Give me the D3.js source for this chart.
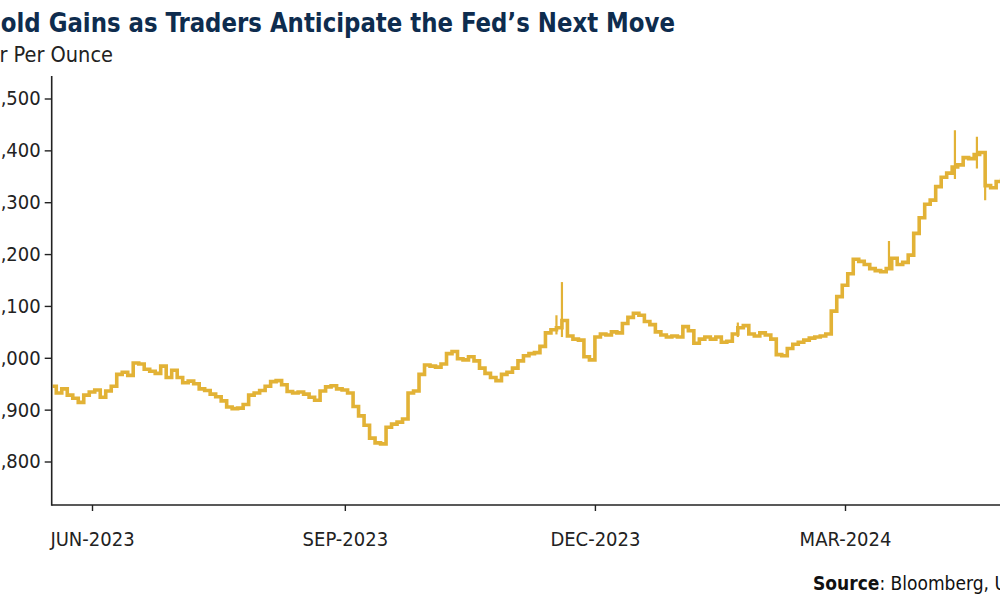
<!DOCTYPE html>
<html><head><meta charset="utf-8">
<script src="https://cdn.jsdelivr.net/npm/d3@7"></script>
<style>
body{margin:0;background:#fff}
svg{display:block}
text{font-family:"Liberation Sans Narrow","DejaVu Sans Condensed","Roboto",sans-serif}
</style>
</head><body>
<svg id="c" width="1000" height="600"></svg>
<script>
// ---- data ----
const titleText = "Gold Gains as Traders Anticipate the Fed\u2019s Next Move";
const unitText = "Dollar Per Ounce";
const sourceBold = "Source";
const sourceRest = ": Bloomberg, U.S. Global Investors";
const startDate = "2023-05-17";
const stepDays = 2;
const prices = [
 1945,1932,1940,1928,1922,1914,1928,1934,1938,1924,
 1936,1945,1968,1972,1966,1990,1988,1978,1974,1970,
 1984,1962,1976,1962,1952,1955,1950,1940,1937,1930,
 1925,1917,1905,1902,1903,1910,1928,1932,1937,1945,
 1954,1956,1948,1935,1932,1934,1930,1924,1918,1936,
 1944,1946,1940,1938,1932,1906,1888,1870,1845,1836,
 1834,1866,1872,1876,1882,1932,1936,1968,1986,1984,
 1982,1988,2008,2012,1998,1996,2002,1994,1980,1970,
 1962,1956,1968,1972,1980,1994,2004,2008,2010,2022,
 2048,2054,2058,2072,2042,2036,2034,2002,1996,2040,
 2046,2044,2050,2048,2066,2078,2086,2082,2070,2064,
 2050,2044,2040,2042,2040,2060,2052,2028,2036,2040,
 2036,2040,2030,2032,2046,2058,2062,2046,2042,2048,
 2044,2036,2006,2004,2018,2026,2030,2034,2038,2040,
 2042,2046,2090,2118,2140,2162,2190,2186,2180,2172,
 2168,2166,2172,2192,2180,2184,2198,2240,2270,2296,
 2304,2330,2348,2356,2368,2372,2386,2384,2392,2396,
 2332,2328,2340,2346
];
const spikeDates = ["2023-11-17","2023-11-19","2024-01-22","2024-03-17","2024-04-10","2024-04-18","2024-04-21"];
const spikeLows  = [2045,2040,2040,2175,2345,2365,2304];
const spikeHighs = [2082,2146,2068,2225,2439,2426,2340];
const yTicks = [1800,1900,2000,2100,2200,2300,2400,2500];
const xTickDates = ["2023-06-01","2023-09-01","2023-12-01","2024-03-01"];

// ---- chart ----
const parse = d3.timeParse("%Y-%m-%d");
const svg = d3.select("#c");
const axisX = 51.7, axisBottom = 505, axisTop = 76, right = 1000;

const x = d3.scaleTime()
  .domain([parse("2023-06-01"), parse("2024-03-01")])
  .range([92, 845]);
const y = d3.scaleLinear().domain([1800, 2500]).range([461.5, 98.5]);

const start = parse(startDate);
const series = prices.map((v, i) => ({date: d3.timeDay.offset(start, i * stepDays), v}));

svg.append("defs").append("clipPath").attr("id", "plot")
  .append("rect").attr("x", axisX + 1).attr("y", axisTop).attr("width", right - axisX).attr("height", axisBottom - axisTop);

const gold = "#E2B236";
const plot = svg.append("g").attr("clip-path", "url(#plot)");
plot.append("path").datum(series)
  .attr("fill", "none").attr("stroke", gold).attr("stroke-width", 3.6)
  .attr("stroke-linejoin", "miter")
  .attr("d", d3.line().x(d => x(d.date)).y(d => y(d.v)).curve(d3.curveStepAfter));
plot.selectAll("line.spike").data(spikeDates.map((d, i) => ({d: parse(d), lo: spikeLows[i], hi: spikeHighs[i]})))
  .join("line").attr("class", "spike")
  .attr("x1", d => x(d.d)).attr("x2", d => x(d.d))
  .attr("y1", d => y(d.lo)).attr("y2", d => y(d.hi))
  .attr("stroke", gold).attr("stroke-width", 2.2);

// axes
const ink = "#222";
svg.append("line").attr("x1", axisX).attr("x2", axisX).attr("y1", axisTop).attr("y2", axisBottom + 0.75)
  .attr("stroke", ink).attr("stroke-width", 1.6);
svg.append("line").attr("x1", axisX).attr("x2", right).attr("y1", axisBottom).attr("y2", axisBottom)
  .attr("stroke", ink).attr("stroke-width", 1.6);

const yAxis = d3.axisLeft(y).tickValues(yTicks).tickSize(7).tickPadding(4)
  .tickFormat(d => "$" + d3.format(",")(d));
const gy = svg.append("g").attr("transform", `translate(${axisX},0)`).call(yAxis);
gy.select(".domain").remove();
gy.selectAll(".tick line").attr("stroke", ink).attr("stroke-width", 1.4);
gy.selectAll(".tick text").attr("fill", ink).style("font-size", "20px");

const xAxis = d3.axisBottom(x).tickValues(xTickDates.map(parse)).tickSize(6).tickPadding(21)
  .tickFormat(d => d3.timeFormat("%b-%Y")(d).toUpperCase());
const gx = svg.append("g").attr("transform", `translate(0,${axisBottom})`).call(xAxis);
gx.select(".domain").remove();
gx.selectAll(".tick line").attr("stroke", ink).attr("stroke-width", 1.4);
gx.selectAll(".tick text").attr("fill", ink).style("font-size", "20px");

// titles
svg.append("text").attr("x", -18).attr("y", 32)
  .attr("textLength", 693).attr("lengthAdjust", "spacingAndGlyphs")
  .attr("fill", "#0E2C4E").style("font-weight", "bold").style("font-size", "27px")
  .text(titleText);
svg.append("text").attr("x", -50).attr("y", 62)
  .attr("textLength", 163).attr("lengthAdjust", "spacingAndGlyphs")
  .attr("fill", ink).style("font-size", "21px").text(unitText);

const src = svg.append("text").attr("x", 813).attr("y", 590).attr("fill", "#111").style("font-size", "19px");
src.append("tspan").style("font-weight", "bold").text(sourceBold);
src.append("tspan").text(sourceRest);
</script>
</body></html>
